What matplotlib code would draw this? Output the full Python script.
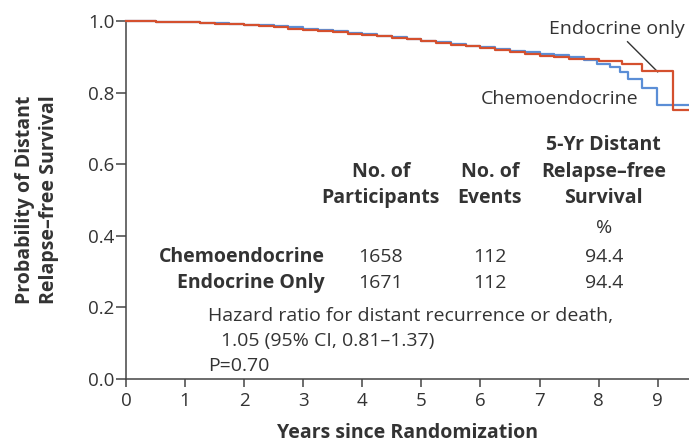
import matplotlib
matplotlib.use('Agg')
import matplotlib.pyplot as plt

# Kaplan-Meier style curves
times_chemo = [0, 0.25, 0.5, 0.75, 1.0, 1.25, 1.5, 1.75, 2.0, 2.25, 2.5, 2.75, 3.0, 3.25,
               3.5, 3.75, 4.0, 4.25, 4.5, 4.75, 5.0, 5.25, 5.5, 5.75, 6.0, 6.25, 6.5, 6.75,
               7.0, 7.25, 7.5, 7.75, 7.97, 8.2, 8.36, 8.5, 8.73, 8.98, 9.53]
surv_chemo = [1.0, 0.999, 0.998, 0.997, 0.996, 0.995, 0.994, 0.992, 0.990, 0.988, 0.985,
              0.982, 0.978, 0.975, 0.971, 0.967, 0.963, 0.959, 0.954, 0.949, 0.944, 0.940,
              0.935, 0.931, 0.926, 0.922, 0.917, 0.913, 0.908, 0.904, 0.899, 0.890, 0.880,
              0.871, 0.858, 0.838, 0.812, 0.765, 0.765]
times_endo = [0, 0.25, 0.5, 0.75, 1.0, 1.25, 1.5, 1.75, 2.0, 2.25, 2.5, 2.75, 3.0, 3.25,
              3.5, 3.75, 4.0, 4.25, 4.5, 4.75, 5.0, 5.25, 5.5, 5.75, 6.0, 6.25, 6.5, 6.75,
              7.0, 7.25, 7.5, 8.0, 8.4, 8.73, 9.26, 9.53]
surv_endo = [1.0, 0.999, 0.998, 0.997, 0.996, 0.995, 0.993, 0.991, 0.989, 0.986, 0.983,
             0.979, 0.975, 0.972, 0.968, 0.965, 0.961, 0.957, 0.953, 0.949, 0.944, 0.939,
             0.934, 0.929, 0.924, 0.919, 0.914, 0.909, 0.903, 0.899, 0.895, 0.887, 0.880,
             0.859, 0.751, 0.751]

groups = ['Chemoendocrine', 'Endocrine Only']
participants = [1658, 1671]
events = [112, 112]
five_yr = [94.4, 94.4]

RED = '#d4502e'
BLUE = '#5b8ed6'
TXT = '#333333'

plt.rcParams['font.family'] = ['Open Sans', 'DejaVu Sans']
plt.rcParams['font.size'] = 14

fig = plt.figure(figsize=(6.89, 4.43), dpi=100)
ax = fig.add_axes([126/689, 64/443, 563/689, 358/443])

ax.step(times_chemo, surv_chemo, where='post', color=BLUE, lw=1.6, clip_on=False, zorder=3)
ax.step(times_endo, surv_endo, where='post', color=RED, lw=1.6, clip_on=False, zorder=4)

ax.set_xlim(0, 9.53)
ax.set_ylim(0, 1.0)
ax.set_xticks(range(10))
ax.set_yticks([0, 0.2, 0.4, 0.6, 0.8, 1.0])
ax.set_yticklabels(['0.0', '0.2', '0.4', '0.6', '0.8', '1.0'])
for s in ['top', 'right']:
    ax.spines[s].set_visible(False)
for s in ['left', 'bottom']:
    ax.spines[s].set_color('#444444')
    ax.spines[s].set_linewidth(1.1)
ax.tick_params(axis='y', length=7, width=1.1, color='#444444', pad=1.5, labelcolor=TXT, labelsize=13.5)
ax.tick_params(axis='x', length=6, width=1.1, color='#444444', pad=3, labelcolor=TXT, labelsize=13.5)

ax.set_ylabel('Probability of Distant\nRelapse–free Survival', fontweight='bold', color=TXT,
              fontsize=14, linespacing=1.25, va='center', ha='center')
ax.yaxis.set_label_coords(-0.158, 0.5)
ax.set_xlabel('Years since Randomization', fontweight='bold', color=TXT, fontsize=14,
              va='center', ha='center')
ax.xaxis.set_label_coords(0.5, -0.151)

# curve labels
ax.text(7.16, 0.978, 'Endocrine only', color=TXT, ha='left', va='center')
ax.plot([8.49, 9.0], [0.942, 0.858], color='#333333', lw=1.0)
ax.text(7.34, 0.782, 'Chemoendocrine', color=TXT, ha='center', va='center')

# table
def px(x):
    return (x - 126) / 59.1

def py(y):
    return (379 - y) / 358

c1, c2, c3 = px(381), px(490), px(604)
ax.text(c3, py(145), '5-Yr Distant', ha='center', va='center', fontweight='bold', color=TXT)
ax.text(c1, py(172), 'No. of', ha='center', va='center', fontweight='bold', color=TXT)
ax.text(c2, py(172), 'No. of', ha='center', va='center', fontweight='bold', color=TXT)
ax.text(c3, py(172), 'Relapse–free', ha='center', va='center', fontweight='bold', color=TXT)
ax.text(c1, py(198), 'Participants', ha='center', va='center', fontweight='bold', color=TXT)
ax.text(c2, py(198), 'Events', ha='center', va='center', fontweight='bold', color=TXT)
ax.text(c3, py(198), 'Survival', ha='center', va='center', fontweight='bold', color=TXT)
ax.text(c3, py(228), '%', ha='center', va='center', color=TXT)

for i, g in enumerate(groups):
    yy = py(257 + 26 * i)
    ax.text(px(325), yy, g, ha='right', va='center', fontweight='bold', color=TXT)
    ax.text(c1, yy, str(participants[i]), ha='center', va='center', color=TXT)
    ax.text(c2, yy, str(events[i]), ha='center', va='center', color=TXT)
    ax.text(c3, yy, f'{five_yr[i]:.1f}', ha='center', va='center', color=TXT)

ax.text(px(208), py(316), 'Hazard ratio for distant recurrence or death,', ha='left', va='center', color=TXT)
ax.text(px(221), py(341), '1.05 (95% CI, 0.81–1.37)', ha='left', va='center', color=TXT)
ax.text(px(208), py(366), 'P=0.70', ha='left', va='center', color=TXT)

fig.savefig('out.png', dpi=100)
